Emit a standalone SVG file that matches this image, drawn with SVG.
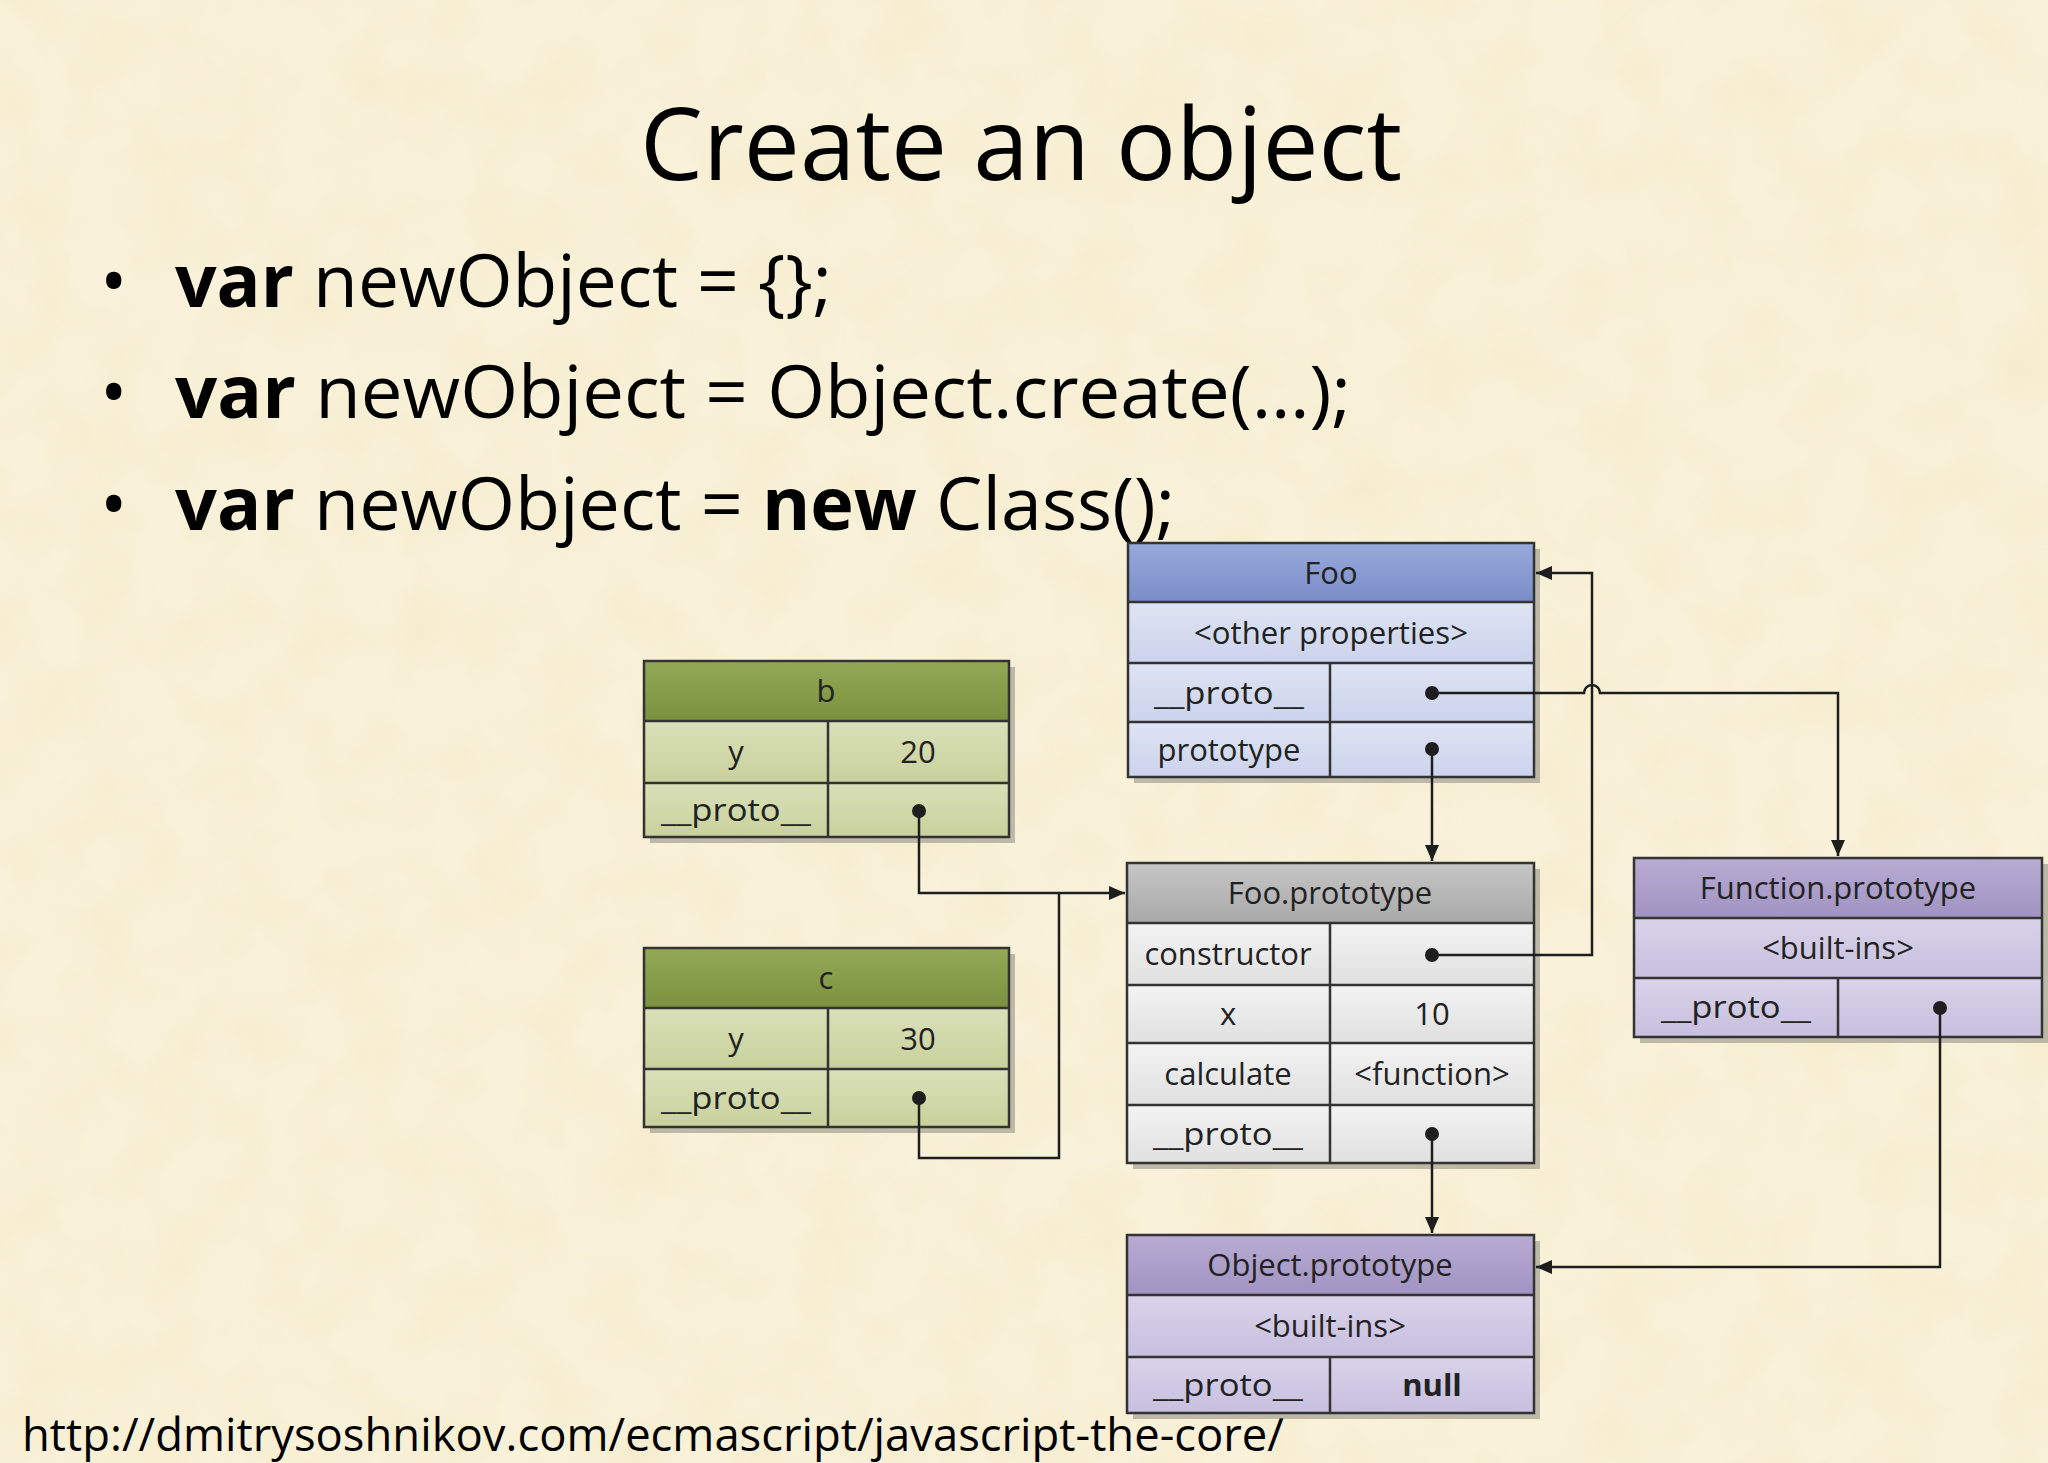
<svg xmlns="http://www.w3.org/2000/svg" width="2048" height="1463" viewBox="0 0 2048 1463">
<defs>
<style>
.t{font-family:"Open Sans","Liberation Sans",sans-serif;font-size:31px;fill:#222;text-anchor:middle}
.bd{stroke:#333;stroke-width:2.5;fill:none}
.sh{fill:#8c8a80;opacity:.55}
.cn{stroke:#1e1e1e;stroke-width:2.5;fill:none}
.dot{fill:#1e1e1e}
.sl{font-family:"Open Sans","Liberation Sans",sans-serif;fill:#000}
</style>
<linearGradient id="blueH" x1="0" y1="0" x2="0" y2="1"><stop offset="0" stop-color="#98aadb"/><stop offset="1" stop-color="#7a8dc7"/></linearGradient>
<linearGradient id="blueR" x1="0" y1="0" x2="0" y2="1"><stop offset="0" stop-color="#dfe4f3"/><stop offset="1" stop-color="#cbd3ec"/></linearGradient>
<linearGradient id="greenH" x1="0" y1="0" x2="0" y2="1"><stop offset="0" stop-color="#93a955"/><stop offset="1" stop-color="#7c913f"/></linearGradient>
<linearGradient id="greenR" x1="0" y1="0" x2="0" y2="1"><stop offset="0" stop-color="#dae0b8"/><stop offset="1" stop-color="#c8d19c"/></linearGradient>
<linearGradient id="grayH" x1="0" y1="0" x2="0" y2="1"><stop offset="0" stop-color="#c6c6c6"/><stop offset="1" stop-color="#a8a8a8"/></linearGradient>
<linearGradient id="grayR" x1="0" y1="0" x2="0" y2="1"><stop offset="0" stop-color="#f3f3f3"/><stop offset="1" stop-color="#e0e0e0"/></linearGradient>
<linearGradient id="purH" x1="0" y1="0" x2="0" y2="1"><stop offset="0" stop-color="#b8acd3"/><stop offset="1" stop-color="#a193c2"/></linearGradient>
<linearGradient id="purR" x1="0" y1="0" x2="0" y2="1"><stop offset="0" stop-color="#d9d3ea"/><stop offset="1" stop-color="#c7bfde"/></linearGradient>
<filter id="paper" x="0" y="0" width="100%" height="100%">
<feTurbulence type="fractalNoise" baseFrequency="0.015" numOctaves="3" seed="7"/>
<feColorMatrix type="matrix" values="0 0 0 0 0.88  0 0 0 0 0.80  0 0 0 0 0.52  0 0 0 1.6 -0.55"/>
</filter>
<marker id="arr" viewBox="0 0 16 14" refX="16" refY="7" markerWidth="16" markerHeight="14" markerUnits="userSpaceOnUse" orient="auto"><path d="M0,0L16,7L0,14z" fill="#1e1e1e"/></marker>
</defs>

<rect width="2048" height="1463" fill="#f9f1d9"/>
<rect width="2048" height="1463" filter="url(#paper)" opacity="0.45"/>

<text class="sl" x="640" y="180" font-size="100" textLength="762" lengthAdjust="spacingAndGlyphs">Create an object</text>

<g class="sl" font-size="73">
<text x="100" y="307">•</text>
<text x="175" y="307" textLength="657" lengthAdjust="spacingAndGlyphs"><tspan font-weight="bold">var</tspan> newObject = {};</text>
<text x="100" y="418">•</text>
<text x="175" y="418" textLength="1176" lengthAdjust="spacingAndGlyphs"><tspan font-weight="bold">var</tspan> newObject = Object.create(…);</text>
<text x="100" y="530">•</text>
<text x="175" y="530" textLength="1000" lengthAdjust="spacingAndGlyphs"><tspan font-weight="bold">var</tspan> newObject = <tspan font-weight="bold">new</tspan> Class();</text>
</g>

<text class="sl" x="22" y="1451" font-size="45" textLength="1262" lengthAdjust="spacingAndGlyphs">http://dmitrysoshnikov.com/ecmascript/javascript-the-core/</text>

<g id="node-b">
<rect class="sh" x="650" y="667" width="365" height="176"/>
<rect x="644" y="661" width="365" height="60" fill="url(#greenH)"/>
<rect x="644" y="721" width="365" height="62" fill="url(#greenR)"/>
<rect x="644" y="783" width="365" height="54" fill="url(#greenR)"/>
<path class="bd" d="M644,661h365v176h-365z M644,721h365 M644,783h365 M828,721v116"/>
<text class="t" x="826" y="702">b</text>
<text class="t" x="736" y="763">y</text>
<text class="t" x="918" y="763">20</text>
<text class="t" x="736" y="821" textLength="150" lengthAdjust="spacingAndGlyphs">__proto__</text>
</g>

<g id="node-c">
<rect class="sh" x="650" y="954" width="365" height="179"/>
<rect x="644" y="948" width="365" height="60" fill="url(#greenH)"/>
<rect x="644" y="1008" width="365" height="61" fill="url(#greenR)"/>
<rect x="644" y="1069" width="365" height="58" fill="url(#greenR)"/>
<path class="bd" d="M644,948h365v179h-365z M644,1008h365 M644,1069h365 M828,1008v119"/>
<text class="t" x="826" y="989">c</text>
<text class="t" x="736" y="1050">y</text>
<text class="t" x="918" y="1050">30</text>
<text class="t" x="736" y="1109" textLength="150" lengthAdjust="spacingAndGlyphs">__proto__</text>
</g>

<g id="node-foo">
<rect class="sh" x="1134" y="549" width="406" height="234"/>
<rect x="1128" y="543" width="406" height="59" fill="url(#blueH)"/>
<rect x="1128" y="602" width="406" height="61" fill="url(#blueR)"/>
<rect x="1128" y="663" width="406" height="59" fill="url(#blueR)"/>
<rect x="1128" y="722" width="406" height="55" fill="url(#blueR)"/>
<path class="bd" d="M1128,543h406v234h-406z M1128,602h406 M1128,663h406 M1128,722h406 M1330,663v114"/>
<text class="t" x="1331" y="584">Foo</text>
<text class="t" x="1331" y="644" textLength="274" lengthAdjust="spacingAndGlyphs">&lt;other properties&gt;</text>
<text class="t" x="1229" y="704" textLength="150" lengthAdjust="spacingAndGlyphs">__proto__</text>
<text class="t" x="1229" y="761">prototype</text>
</g>

<g id="node-foo-prototype">
<rect class="sh" x="1133" y="869" width="407" height="300"/>
<rect x="1127" y="863" width="407" height="60" fill="url(#grayH)"/>
<rect x="1127" y="923" width="407" height="62" fill="url(#grayR)"/>
<rect x="1127" y="985" width="407" height="58" fill="url(#grayR)"/>
<rect x="1127" y="1043" width="407" height="62" fill="url(#grayR)"/>
<rect x="1127" y="1105" width="407" height="58" fill="url(#grayR)"/>
<path class="bd" d="M1127,863h407v300h-407z M1127,923h407 M1127,985h407 M1127,1043h407 M1127,1105h407 M1330,923v240"/>
<text class="t" x="1330" y="904">Foo.prototype</text>
<text class="t" x="1228" y="965">constructor</text>
<text class="t" x="1228" y="1025">x</text>
<text class="t" x="1432" y="1025">10</text>
<text class="t" x="1228" y="1085">calculate</text>
<text class="t" x="1432" y="1085">&lt;function&gt;</text>
<text class="t" x="1228" y="1145" textLength="150" lengthAdjust="spacingAndGlyphs">__proto__</text>
</g>

<g id="node-function-prototype">
<rect class="sh" x="1640" y="864" width="408" height="179"/>
<rect x="1634" y="858" width="408" height="60" fill="url(#purH)"/>
<rect x="1634" y="918" width="408" height="60" fill="url(#purR)"/>
<rect x="1634" y="978" width="408" height="59" fill="url(#purR)"/>
<path class="bd" d="M1634,858h408v179h-408z M1634,918h408 M1634,978h408 M1838,978v59"/>
<text class="t" x="1838" y="899">Function.prototype</text>
<text class="t" x="1838" y="959">&lt;built-ins&gt;</text>
<text class="t" x="1736" y="1018" textLength="150" lengthAdjust="spacingAndGlyphs">__proto__</text>
</g>

<g id="node-object-prototype">
<rect class="sh" x="1133" y="1241" width="407" height="178"/>
<rect x="1127" y="1235" width="407" height="60" fill="url(#purH)"/>
<rect x="1127" y="1295" width="407" height="62" fill="url(#purR)"/>
<rect x="1127" y="1357" width="407" height="56" fill="url(#purR)"/>
<path class="bd" d="M1127,1235h407v178h-407z M1127,1295h407 M1127,1357h407 M1330,1357v56"/>
<text class="t" x="1330" y="1276">Object.prototype</text>
<text class="t" x="1330" y="1337">&lt;built-ins&gt;</text>
<text class="t" x="1228" y="1396" textLength="150" lengthAdjust="spacingAndGlyphs">__proto__</text>
<text class="t" x="1432" y="1396" font-weight="bold">null</text>
</g>

<g id="connectors">
<path class="cn" d="M919,811V893H1125" marker-end="url(#arr)"/>
<path class="cn" d="M919,1098V1158H1059V893"/>
<path class="cn" d="M1432,693H1584a8,8 0 0 1 16,0H1838V856" marker-end="url(#arr)"/>
<path class="cn" d="M1432,749V861" marker-end="url(#arr)"/>
<path class="cn" d="M1432,955H1592V573H1536" marker-end="url(#arr)"/>
<path class="cn" d="M1432,1134V1233" marker-end="url(#arr)"/>
<path class="cn" d="M1940,1008V1267H1536" marker-end="url(#arr)"/>
<circle class="dot" cx="919" cy="811" r="7"/>
<circle class="dot" cx="919" cy="1098" r="7"/>
<circle class="dot" cx="1432" cy="693" r="7"/>
<circle class="dot" cx="1432" cy="749" r="7"/>
<circle class="dot" cx="1432" cy="955" r="7"/>
<circle class="dot" cx="1432" cy="1134" r="7"/>
<circle class="dot" cx="1940" cy="1008" r="7"/>
</g>
</svg>
